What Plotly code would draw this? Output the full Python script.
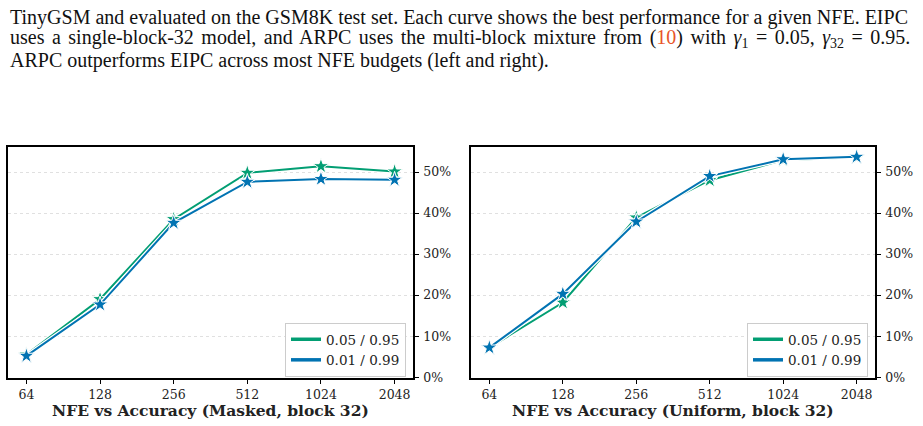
import math
import plotly.graph_objects as go

# ---- data ----
nfe = [64, 128, 256, 512, 1024, 2048]
tick_labels = ["64", "128", "256", "512", "1024", "2048"]
y_ticks = [0, 10, 20, 30, 40, 50]
y_tick_labels = ["0%", "10%", "20%", "30%", "40%", "50%"]
series_names = ["0.05 / 0.95", "0.01 / 0.99"]
masked_a = [5.5, 19.0, 38.5, 49.8, 51.4, 50.1]   # 0.05 / 0.95
masked_b = [5.2, 17.7, 37.6, 47.6, 48.3, 48.1]   # 0.01 / 0.99
uniform_a = [7.2, 18.2, 38.9, 48.0, 52.9, 53.6]  # 0.05 / 0.95
uniform_b = [7.2, 20.3, 37.9, 49.0, 53.1, 53.7]  # 0.01 / 0.99
panel_titles = ["NFE vs Accuracy (Masked, block 32)", "NFE vs Accuracy (Uniform, block 32)"]
caption_lines = [
    "TinyGSM and evaluated on the GSM8K test set. Each curve shows the best performance for a given NFE. EIPC",
    "<span style='word-spacing:2.5px'>uses a single-block-32 model, and ARPC uses the multi-block mixture from "
    "(</span><span style='color:#e8542a'>10</span><span style='word-spacing:2.5px'>) with "
    "<i>γ</i><sub>1</sub> = 0.05, <i>γ</i><sub>32</sub> = 0.95.</span>",
    "ARPC outperforms EIPC across most NFE budgets (left and right).",
]

GREEN = "#029e73"
BLUE = "#0173b2"
W, H = 923, 426
FONT = "DejaVu Serif"

fig = go.Figure()

panels = [(masked_a, masked_b, "x", "y"), (uniform_a, uniform_b, "x2", "y2")]
for pi, (ya, yb, xa, yax) in enumerate(panels):
    for vals, col in [(ya, GREEN), (yb, BLUE)]:
        fig.add_trace(go.Scatter(x=nfe, y=vals, mode="lines", xaxis=xa, yaxis=yax,
                                 line=dict(color="white", width=4.5), showlegend=False,
                                 hoverinfo="skip"))
        fig.add_trace(go.Scatter(x=nfe, y=vals, mode="lines+markers", xaxis=xa, yaxis=yax,
                                 line=dict(color=col, width=2),
                                 marker=dict(symbol="star", size=12, color=col,
                                             line=dict(color="white", width=1)),
                                 showlegend=False))
    leg = "legend" if pi == 0 else "legend2"
    for name, col in zip(series_names, [GREEN, BLUE]):
        fig.add_trace(go.Scatter(x=[None], y=[None], mode="lines", xaxis=xa, yaxis=yax,
                                 line=dict(color=col, width=3.5), name=name,
                                 legend=leg, showlegend=True))

xr = [5.75 * math.log10(2), 11.25 * math.log10(2)]
yr = [-0.2, 56.1]
ydom = [(H - 378) / H, (H - 147) / H]
xdoms = [[8 / W, 413 / W], [471 / W, 875 / W]]

axis_common = dict(showline=True, linecolor="black", linewidth=1.5, mirror=True,
                   ticks="outside", ticklen=4, tickwidth=1, tickcolor="black",
                   tickfont=dict(family=FONT, size=12.5, color="#222"), zeroline=False,
                   automargin=False)

for i, suffix in enumerate(["", "2"]):
    fig.layout["xaxis" + suffix] = dict(
        axis_common, type="log", range=xr, domain=xdoms[i], tickmode="array",
        tickvals=nfe, ticktext=tick_labels, showgrid=False, anchor="y" + suffix)
    fig.layout["yaxis" + suffix] = dict(
        axis_common, range=yr, domain=ydom, side="right", tickmode="array",
        tickvals=y_ticks, ticktext=y_tick_labels, showgrid=True, gridcolor="#e0e0e0",
        gridwidth=0.8, griddash="dot", anchor="x" + suffix, ticklabelstandoff=2)

leg_common = dict(bgcolor="white", bordercolor="#cccccc", borderwidth=1,
                  font=dict(family=FONT, size=13.5, color="#222"),
                  xanchor="right", yanchor="bottom", tracegroupgap=0)
fig.layout.legend = dict(leg_common, x=406 / W, y=(H - 377) / H)
fig.layout.legend2 = dict(leg_common, x=868 / W, y=(H - 377) / H)

annotations = []
for i, t in enumerate(panel_titles):
    cx = (xdoms[i][0] + xdoms[i][1]) / 2
    annotations.append(dict(text="<b>" + t + "</b>", x=cx, y=1 - 410 / H, xref="paper",
                            yref="paper", showarrow=False, xanchor="center", yanchor="middle",
                            font=dict(family=FONT, size=15.5, color="#222")))
for i, line in enumerate(caption_lines):
    annotations.append(dict(text=line, x=8 / W, y=1 - (17 + 22 * i) / H, xref="paper",
                            yref="paper", showarrow=False, xanchor="left", yanchor="middle",
                            font=dict(family="Liberation Serif", size=20, color="#111")))
fig.layout.annotations = annotations

fig.update_layout(width=W, height=H, margin=dict(l=0, r=0, t=0, b=0, autoexpand=False),
                  plot_bgcolor="white", paper_bgcolor="white")

fig.write_html("out.html")
